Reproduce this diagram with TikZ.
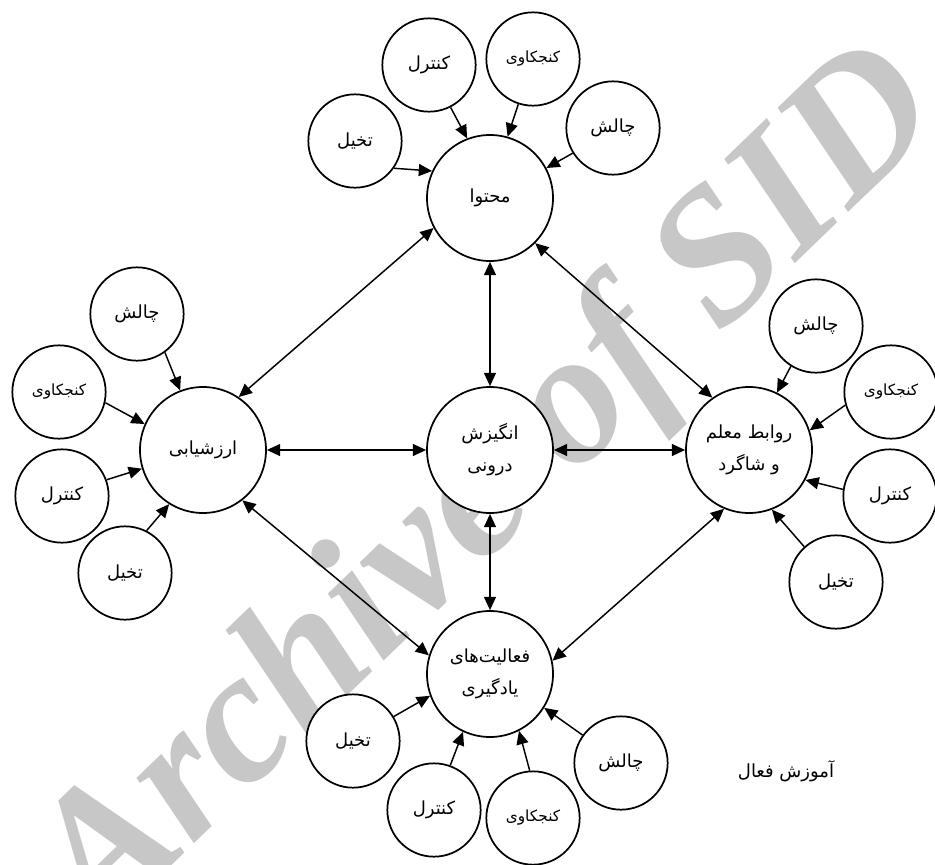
\documentclass[tikz,border=0pt]{standalone}
\usepackage{fontspec}
\usepackage{tikz}
\usetikzlibrary{arrows.meta}
\newfontfamily\arabicfont[Script=Arabic]{DejaVu Sans}
\newfontfamily\wmfont{Liberation Serif}
\TeXXeTstate=1
\newcommand{\fa}[1]{\beginR #1\endR}

\begin{document}
\begin{tikzpicture}[x=0.75pt,y=-0.75pt,
bignode/.style={circle, draw=black, line width=1.3pt, fill=white, minimum size=94.5pt, inner sep=0pt, align=center, font=\arabicfont\fontsize{13.5}{24}\selectfont},
smallnode/.style={circle, draw=black, line width=1.3pt, fill=white, minimum size=70pt, inner sep=0pt, font=\arabicfont\fontsize{13.5}{15}\selectfont},
smalltext/.style={font=\arabicfont\fontsize{11.5}{13}\selectfont},
arr/.style={line width=1.1pt, -{Triangle[length=10pt,width=9pt]}},
darr/.style={line width=1.1pt, {Triangle[length=10pt,width=9pt]}-{Triangle[length=10pt,width=9pt]}}
]
\useasboundingbox (0,0) rectangle (935,864);

%Watermark
\node[rotate=44, text=black!22, font=\wmfont\bfseries\itshape\fontsize{142}{142}\selectfont] (wm) at (492,492) {Archive of SID};

%Nodes
\node[bignode] (mohtava) at (490,198) {\fa{محتوا}};
\node[bignode] (arzeshyabi) at (203,450) {\fa{ارزشیابی}};
\node[bignode] (angizesh) at (490,450) {\fa{انگیزش}\\\fa{درونی}};
\node[bignode] (ravabet) at (749,450) {\fa{روابط معلم}\\\fa{و شاگرد}};
\node[bignode] (faaliat) at (490,674) {\fa{فعالیت‌های}\\\fa{یادگیری}};

\node[smallnode] (m1) at (355,141) {\fa{تخیل}};
\node[smallnode] (m2) at (429,65) {\fa{کنترل}};
\node[smallnode, smalltext] (m3) at (533,59) {\fa{کنجکاوی}};
\node[smallnode] (m4) at (613,128) {\fa{چالش}};

\node[smallnode] (a1) at (137,314) {\fa{چالش}};
\node[smallnode, smalltext] (a2) at (59,392) {\fa{کنجکاوی}};
\node[smallnode] (a3) at (62,496) {\fa{کنترل}};
\node[smallnode] (a4) at (125,573) {\fa{تخیل}};

\node[smallnode] (r1) at (816,326) {\fa{چالش}};
\node[smallnode, smalltext] (r2) at (891,392) {\fa{کنجکاوی}};
\node[smallnode] (r3) at (890,496) {\fa{کنترل}};
\node[smallnode] (r4) at (836,582) {\fa{تخیل}};

\node[smallnode] (f1) at (353,741) {\fa{تخیل}};
\node[smallnode] (f2) at (434,810) {\fa{کنترل}};
\node[smallnode, smalltext] (f3) at (533,818) {\fa{کنجکاوی}};
\node[smallnode] (f4) at (621,763) {\fa{چالش}};

\node[font=\arabicfont\fontsize{13.5}{15}\selectfont] (title) at (786,771) {\fa{آموزش فعال}};

\foreach \i/\j in {% from/to
      m1.-35/mohtava.155, m2.-63/mohtava.111, m3.-108/mohtava.74, m4.-148/mohtava.28,
      a1.-54/arzeshyabi.111, a2.-13/arzeshyabi.156, a3.20/arzeshyabi.-163, a4.63/arzeshyabi.-122,
      r1.-122/ravabet.64, r2.-164/ravabet.18, r3.172/ravabet.-28, r4.132/ravabet.-69,
      f1.31/faaliat.-160, f2.70/faaliat.-115, f3.94/faaliat.-63, f4.144/faaliat.-32}
       \draw[arr] (\i) -- (\j);

\foreach \i/\j in {% both ways
      mohtava/angizesh, arzeshyabi/angizesh, angizesh/ravabet, angizesh/faaliat,
      mohtava.208/arzeshyabi.56, mohtava.-45/ravabet.125,
      arzeshyabi.-52/faaliat.163, ravabet.-113/faaliat.12}
       \draw[darr] (\i) -- (\j);
\end{tikzpicture}
\end{document}
